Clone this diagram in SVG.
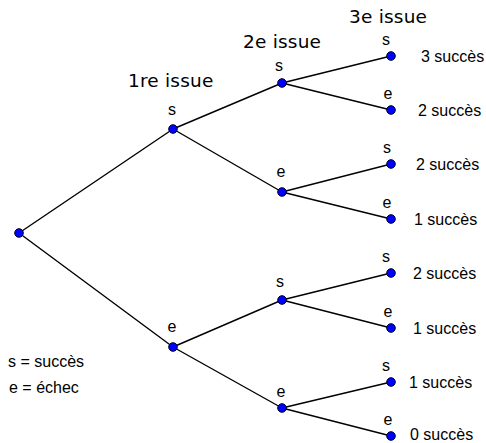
<svg xmlns="http://www.w3.org/2000/svg" width="486" height="443" viewBox="0 0 486 443">
<style>
.edge{stroke:#000;stroke-width:1.4;fill:none}
.node{fill:#0000ff;stroke:#00002a;stroke-width:1}
.lbl{font-family:"Liberation Sans",Arial,sans-serif;font-size:16px;fill:#000}
.mid{text-anchor:middle}
.head{font-family:"DejaVu Sans",sans-serif;font-size:18.5px;fill:#000;letter-spacing:0.2px}
</style>
<rect width="486" height="443" fill="#fff"/>
<g id="connectors">
<path class="edge" d="M19 233L173 129M19 233L173 347"/>
<path class="edge" d="M173 129L282 83M173 129L282 192M173 347L282 300M173 347L282 408"/>
<path class="edge" d="M282 83L391 56M282 83L391 110M282 192L391 164M282 192L391 219M282 300L391 273M282 300L391 328M282 408L391 382M282 408L391 436"/>
</g>
<g id="headings">
<text class="head" x="128" y="87">1re issue</text>
<text class="head" x="243" y="48">2e issue</text>
<text class="head" x="349" y="23">3e issue</text>
</g>
<g id="root"><circle class="node" cx="19" cy="233" r="4.3"/></g>
<g id="n1s"><circle class="node" cx="173" cy="129" r="4.3"/><text class="lbl mid" x="172" y="115">s</text></g>
<g id="n1e"><circle class="node" cx="173" cy="347" r="4.3"/><text class="lbl mid" x="172" y="332">e</text></g>
<g id="n2ss"><circle class="node" cx="282" cy="83" r="4.3"/><text class="lbl mid" x="279" y="71">s</text></g>
<g id="n2se"><circle class="node" cx="282" cy="192" r="4.3"/><text class="lbl mid" x="281" y="177">e</text></g>
<g id="n2es"><circle class="node" cx="282" cy="300" r="4.3"/><text class="lbl mid" x="280" y="287">s</text></g>
<g id="n2ee"><circle class="node" cx="282" cy="408" r="4.3"/><text class="lbl mid" x="281" y="397">e</text></g>
<g id="n3sss"><circle class="node" cx="391" cy="56" r="4.3"/><text class="lbl mid" x="386" y="45">s</text><text class="lbl" x="421" y="62">3 succès</text></g>
<g id="n3sse"><circle class="node" cx="391" cy="110" r="4.3"/><text class="lbl mid" x="388" y="99">e</text><text class="lbl" x="418" y="116">2 succès</text></g>
<g id="n3ses"><circle class="node" cx="391" cy="164" r="4.3"/><text class="lbl mid" x="387" y="153">s</text><text class="lbl" x="416" y="170">2 succès</text></g>
<g id="n3see"><circle class="node" cx="391" cy="219" r="4.3"/><text class="lbl mid" x="387" y="208">e</text><text class="lbl" x="414" y="225">1 succès</text></g>
<g id="n3ess"><circle class="node" cx="391" cy="273" r="4.3"/><text class="lbl mid" x="386" y="262">s</text><text class="lbl" x="413" y="279">2 succès</text></g>
<g id="n3ese"><circle class="node" cx="391" cy="328" r="4.3"/><text class="lbl mid" x="388" y="317">e</text><text class="lbl" x="413" y="334">1 succès</text></g>
<g id="n3ees"><circle class="node" cx="391" cy="382" r="4.3"/><text class="lbl mid" x="386" y="371">s</text><text class="lbl" x="409" y="388">1 succès</text></g>
<g id="n3eee"><circle class="node" cx="391" cy="436" r="4.3"/><text class="lbl mid" x="388" y="425">e</text><text class="lbl" x="410" y="440">0 succès</text></g>
<g id="legend">
<text class="lbl" x="8" y="367">s = succès</text>
<text class="lbl" x="9" y="393">e = échec</text>
</g>
</svg>
